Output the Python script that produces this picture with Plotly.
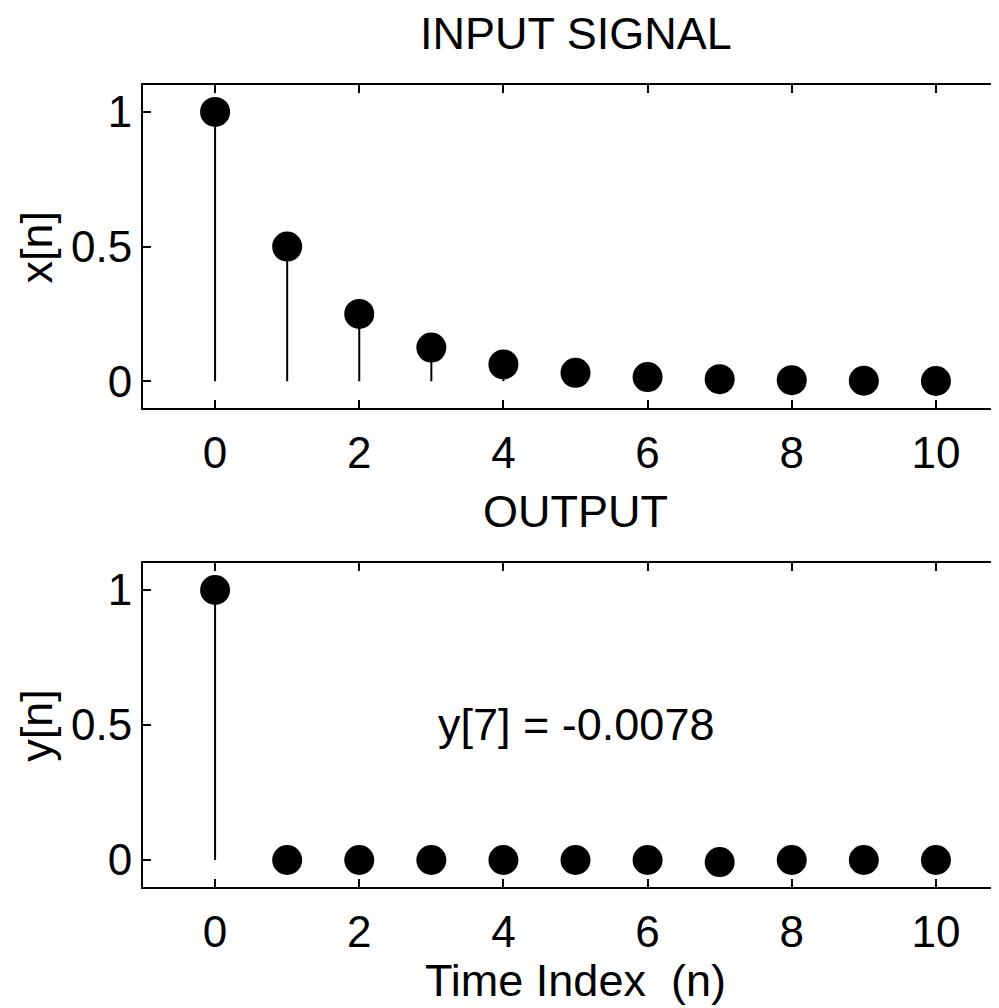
import plotly.graph_objects as go
from plotly.subplots import make_subplots

n = [0, 1, 2, 3, 4, 5, 6, 7, 8, 9, 10]
x_vals = [1.0, 0.5, 0.25, 0.125, 0.0625, 0.03125, 0.015625, 0.0078125, 0.00390625, 0.001953125, 0.0009765625]
y_vals = [1.0, 0.0, 0.0, 0.0, 0.0, 0.0, 0.0, -0.0078, 0.0, 0.0, 0.0]
x_ticks = [0, 2, 4, 6, 8, 10]
y_ticks = [0, 0.5, 1]
y_ticktext = ["0", "0.5", "1"]

FONT = "Liberation Sans, Arial, Helvetica, sans-serif"
FS = 45
TFS = 44

fig = make_subplots(rows=2, cols=1)


def stems(xs, ys):
    sx, sy = [], []
    for a, b in zip(xs, ys):
        sx += [a, a, None]
        sy += [0, b, None]
    return sx, sy


for row, vals in ((1, x_vals), (2, y_vals)):
    sx, sy = stems(n, vals)
    fig.add_trace(go.Scatter(x=sx, y=sy, mode="lines",
                             line=dict(color="black", width=2),
                             showlegend=False, hoverinfo="skip"), row=row, col=1)
    fig.add_trace(go.Scatter(x=n, y=vals, mode="markers",
                             marker=dict(color="black", size=30),
                             showlegend=False), row=row, col=1)

axis_common = dict(showgrid=False, zeroline=False, showline=True,
                   linecolor="black", linewidth=2, ticks="inside",
                   ticklen=8, tickwidth=2, tickcolor="black",
                   tickfont=dict(family=FONT, size=TFS, color="black"))

fig.update_xaxes(range=[-1, 10.875], tickvals=x_ticks, mirror="ticks",
                 ticklabelstandoff=5, **axis_common)
fig.update_yaxes(range=[-0.1, 1.1], tickvals=y_ticks, ticktext=y_ticktext,
                 mirror=False, ticklabelstandoff=0, **axis_common)

fig.update_layout(
    width=991, height=1000,
    margin=dict(l=135, r=0, t=77, b=121),
    plot_bgcolor="white", paper_bgcolor="white",
    font=dict(family=FONT, size=FS, color="black"),
    xaxis=dict(domain=[0, 1]), xaxis2=dict(domain=[0, 1]),
    yaxis=dict(domain=[0.597, 1.0]),
    yaxis2=dict(domain=[0.0, 0.404]),
)

anns = [
    dict(text="INPUT SIGNAL", xref="x", yref="paper", x=5, y=1.0, yshift=52,
         xanchor="center", yanchor="middle", showarrow=False),
    dict(text="OUTPUT", xref="x2", yref="paper", x=5, y=0.404, yshift=51,
         xanchor="center", yanchor="middle", showarrow=False),
    dict(text="Time Index  (n)", xref="x2", yref="paper", x=5, y=0, yshift=-93,
         xanchor="center", yanchor="middle", showarrow=False),
    dict(text="x[n]", xref="paper", yref="y", x=-0.124, y=0.5, textangle=-90,
         xanchor="center", yanchor="middle", showarrow=False),
    dict(text="y[n]", xref="paper", yref="y2", x=-0.124, y=0.5, textangle=-90,
         xanchor="center", yanchor="middle", showarrow=False),
    dict(text="y[7] = -0.0078", xref="x2", yref="y2", x=5, y=0.5,
         xanchor="center", yanchor="middle", showarrow=False),
]
for a in anns:
    a["font"] = dict(family=FONT, size=FS, color="black")
fig.update_layout(annotations=anns)

fig.write_html("out.html")
